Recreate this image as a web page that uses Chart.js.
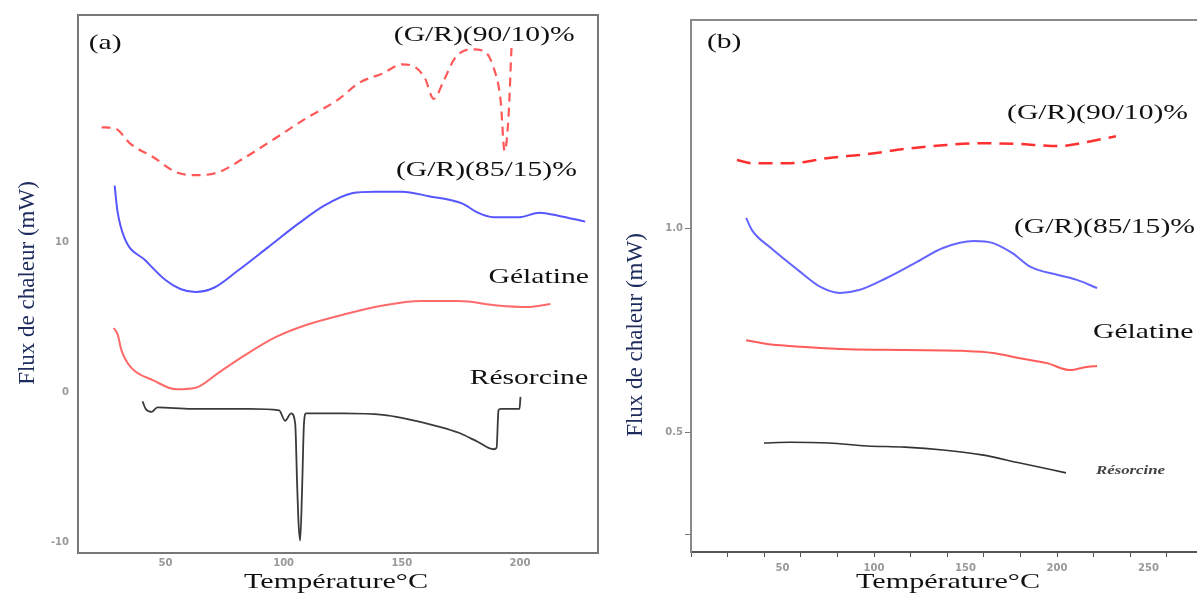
<!DOCTYPE html>
<html>
<head>
<meta charset="utf-8">
<script src="https://cdn.jsdelivr.net/npm/chart.js@4/dist/chart.umd.min.js"></script>
<style>
  body { margin: 0; background: #fff; }
  #wrap { position: relative; width: 1197px; height: 595px; overflow: hidden; }
  canvas { position: absolute; top: 0; }
  #chartA { left: 0; }
  #chartB { left: 600px; }
</style>
</head>
<body>
<div id="wrap">
  <canvas id="chartA" width="600" height="595"></canvas>
  <canvas id="chartB" width="597" height="595"></canvas>
</div>
<script>
// ---- panel (a) : temperature (°C) / heat flux (mW)
const tempA_90 = [23, 28.9, 35.2, 44.9, 54.6, 62.7, 72.4, 83.8, 96.8, 109.5, 122.6, 132.3, 142.0, 150.0, 154.6, 159.7, 163.5, 167.7, 172.4, 179.1, 184.6, 188.8, 191.8, 193.5, 195.1, 196.4];
const fluxA_90 = [17.7, 17.6, 16.6, 15.7, 14.7, 14.5, 14.7, 15.7, 17.0, 18.3, 19.5, 20.7, 21.3, 21.9, 21.8, 21.0, 19.6, 20.8, 22.3, 22.9, 22.8, 21.7, 19.5, 16.1, 18.3, 23.0];
const tempA_85 = [28.5, 29.7, 32.7, 41.6, 50, 56.3, 62.7, 70.7, 80.4, 93.5, 106.5, 117.5, 128.9, 138.6, 150.0, 161.4, 175.7, 182.1, 188.8, 199.8, 208.2, 216.2, 227.6];
const fluxA_85 = [13.8, 12.1, 10.3, 8.8, 7.5, 6.9, 6.7, 7.0, 8.1, 9.7, 11.3, 12.5, 13.3, 13.4, 13.4, 13.1, 12.6, 12.0, 11.7, 11.7, 12.0, 11.8, 11.4];
const tempA_gel = [28.1, 29.7, 31.4, 35.2, 44.9, 54.6, 62.7, 72.4, 83.8, 96.8, 109.5, 125.5, 142.0, 158.0, 174.1, 190.5, 203.2, 212.9];
const fluxA_gel = [4.3, 3.9, 2.8, 1.7, 0.8, 0.2, 0.3, 1.3, 2.5, 3.7, 4.5, 5.2, 5.8, 6.1, 6.1, 5.8, 5.7, 5.9];
const tempA_res = [40.3, 41.6, 44.1, 46.6, 61.0, 85.4, 98.1, 100.6, 103.2, 104.9, 105.7, 106.3, 107.0, 107.8, 108.6, 109.5, 125.5, 142.0, 150.0, 166.0, 174.1, 182.1, 188.8, 190.1, 190.9, 191.8, 199.8, 200.2];
const fluxA_res = [-0.6, -1.1, -1.3, -1.0, -1.1, -1.1, -1.2, -1.9, -1.4, -2.1, -6.1, -8.7, -9.9, -6.5, -2.1, -1.4, -1.4, -1.5, -1.7, -2.3, -2.7, -3.3, -3.8, -3.7, -1.2, -1.1, -1.1, -0.3];
const xTicksA = [50, 100, 150, 200];
const yTicksA = [-10, 0, 10];

// ---- panel (b)
const tempB_90 = [25.1, 33.3, 54.1, 75.4, 96.2, 116.9, 137.7, 159.0, 179.8, 190.2, 200.5, 213.1, 221.9, 232.2];
const fluxB_90 = [1.167, 1.159, 1.159, 1.172, 1.181, 1.194, 1.203, 1.208, 1.206, 1.203, 1.201, 1.208, 1.216, 1.225];
const tempB_85 = [30.1, 33.3, 43.7, 58.5, 71.0, 81.4, 91.8, 106.6, 123.5, 137.7, 154.6, 165.0, 175.4, 185.8, 200.5, 210.9, 221.9];
const fluxB_85 = [1.025, 0.995, 0.951, 0.897, 0.855, 0.841, 0.848, 0.877, 0.917, 0.951, 0.968, 0.963, 0.939, 0.904, 0.885, 0.873, 0.853];
const tempB_gel = [30.1, 41.5, 64.5, 85.8, 116.9, 148.6, 165.0, 179.8, 194.5, 207.1, 215.3, 221.9];
const fluxB_gel = [0.725, 0.716, 0.708, 0.703, 0.701, 0.699, 0.694, 0.681, 0.669, 0.652, 0.659, 0.662];
const tempB_res = [39.9, 54.1, 75.4, 96.2, 116.9, 137.7, 159.0, 179.8, 204.9];
const fluxB_res = [0.473, 0.475, 0.473, 0.466, 0.463, 0.456, 0.444, 0.424, 0.400];
const xLabelsB = [50, 100, 150, 200, 250];
const yTicksB = [0.25, 0.5, 1.0];

const seriesNames = ['(G/R)(90/10)%', '(G/R)(85/15)%', 'Gélatine', 'Résorcine'];

const pts = (xs, ys) => xs.map((x, i) => ({ x: x, y: ys[i] }));
const serif = '"Liberation Serif", "Times New Roman", serif';

// draws the in-plot labels (data coords) and the axis titles (pixels), stretched like the scan
const panelText = {
    id: 'panelText',
    afterDraw(chart, args, opts) {
        const ctx = chart.ctx;
        const xs = chart.scales.x, ys = chart.scales.y;
        ctx.textBaseline = 'middle';
        (opts.labels || []).forEach(l => {
            ctx.save();
            ctx.font = l.font || ('21px ' + serif);
            ctx.fillStyle = l.color || '#111';
            ctx.translate(xs.getPixelForValue(l.x), ys.getPixelForValue(l.y));
            ctx.scale(l.stretch || 1.41, 1);
            ctx.textAlign = 'left';
            ctx.fillText(l.text, 0, 0);
            ctx.restore();
        });
        (opts.titles || []).forEach(t => {
            ctx.save();
            ctx.font = t.font;
            ctx.fillStyle = t.color || '#111';
            ctx.translate(t.px, t.py);
            ctx.rotate(t.rot || 0);
            ctx.scale(t.stretch || 1, 1);
            ctx.textAlign = 'center';
            ctx.fillText(t.text, 0, 0);
            ctx.restore();
        });
    }
};

// top / right frame lines
const frame = {
    id: 'frame',
    beforeDatasetsDraw(chart, args, opts) {
        const { ctx, chartArea: a } = chart;
        ctx.save();
        ctx.strokeStyle = opts.color || '#777';
        ctx.lineWidth = 2;
        ctx.beginPath();
        ctx.moveTo(a.left, a.top);
        ctx.lineTo(a.right, a.top);
        if (opts.right) ctx.lineTo(a.right, a.bottom);
        ctx.stroke();
        ctx.restore();
    }
};

const tickFont = { family: '"DejaVu Sans", sans-serif', size: 10, weight: 'bold' };

// ---------------- chart (a)
new Chart(document.getElementById('chartA'), {
    type: 'line',
    data: {
        datasets: [
            { label: seriesNames[0], data: pts(tempA_90, fluxA_90), borderColor: 'rgba(255,70,70,0.9)', borderWidth: 2.2, borderDash: [9, 6] },
            { label: seriesNames[1], data: pts(tempA_85, fluxA_85), borderColor: '#5656ff', borderWidth: 2 },
            { label: seriesNames[2], data: pts(tempA_gel, fluxA_gel), borderColor: '#ff6a6a', borderWidth: 2 },
            { label: seriesNames[3], data: pts(tempA_res, fluxA_res), borderColor: '#3a3a3a', borderWidth: 1.8 }
        ]
    },
    options: {
        responsive: false,
        animation: false,
        layout: { padding: { top: 14, right: 2, left: 0, bottom: 0 } },
        elements: { point: { radius: 0 }, line: { cubicInterpolationMode: 'monotone' } },
        scales: {
            x: {
                type: 'linear', min: 13, max: 233,
                afterFit: s => { s.height = 42; },
                afterBuildTicks: s => { s.ticks = xTicksA.map(v => ({ value: v })); },
                grid: { display: false, drawTicks: false },
                border: { display: true, color: '#777', width: 2 },
                ticks: { font: tickFont, color: '#999', padding: 4, maxRotation: 0 }
            },
            y: {
                min: -10.73, max: 25.2,
                afterFit: s => { s.width = 78; },
                afterBuildTicks: s => { s.ticks = yTicksA.map(v => ({ value: v })); },
                grid: { display: false, drawTicks: false },
                border: { display: true, color: '#777', width: 2 },
                ticks: { font: tickFont, color: '#999', padding: 9 }
            }
        },
        plugins: {
            legend: { display: false },
            tooltip: { enabled: false },
            frame: { right: true },
            panelText: {
                labels: [
                    { text: '(a)', x: 17.5, y: 23.3 },
                    { text: seriesNames[0], x: 146.6, y: 23.8 },
                    { text: seriesNames[1], x: 147.5, y: 14.8 },
                    { text: seriesNames[2], x: 186.7, y: 7.67 },
                    { text: seriesNames[3], x: 178.7, y: 0.93 }
                ],
                titles: [
                    { text: 'Flux de chaleur (mW)', px: 28, py: 283, rot: -Math.PI / 2, font: '23px ' + serif, color: '#1d2c5c' },
                    { text: 'Température°C', px: 336, py: 582, font: '22px ' + serif, stretch: 1.37 }
                ]
            }
        }
    },
    plugins: [frame, panelText]
});

// ---------------- chart (b)
new Chart(document.getElementById('chartB'), {
    type: 'line',
    data: {
        datasets: [
            { label: seriesNames[0], data: pts(tempB_90, fluxB_90), borderColor: '#ff3030', borderWidth: 2.5, borderDash: [14, 8] },
            { label: seriesNames[1], data: pts(tempB_85, fluxB_85), borderColor: '#6464ff', borderWidth: 2 },
            { label: seriesNames[2], data: pts(tempB_gel, fluxB_gel), borderColor: '#ff5c5c', borderWidth: 2 },
            { label: seriesNames[3], data: pts(tempB_res, fluxB_res), borderColor: '#333', borderWidth: 1.6 }
        ]
    },
    options: {
        responsive: false,
        animation: false,
        layout: { padding: { top: 20, right: 0, left: 0, bottom: 0 } },
        elements: { point: { radius: 0 }, line: { cubicInterpolationMode: 'monotone' } },
        scales: {
            x: {
                type: 'linear', min: 0, max: 276.5,
                afterFit: s => { s.height = 43; },
                afterBuildTicks: s => {
                    const t = [];
                    for (let v = 0; v <= 270; v += 10) t.push({ value: v });
                    s.ticks = t;
                },
                grid: {
                    drawOnChartArea: false, drawTicks: true, tickLength: 5,
                    tickColor: c => (c.tick && c.tick.value % 20 === 0) ? '#555' : 'rgba(0,0,0,0)'
                },
                border: { display: true, color: '#555', width: 2 },
                ticks: {
                    autoSkip: false, maxRotation: 0, font: tickFont, color: '#999', padding: 5,
                    callback: v => xLabelsB.includes(v) ? String(v) : ''
                }
            },
            y: {
                min: 0.206, max: 1.51,
                afterFit: s => { s.width = 91; },
                afterBuildTicks: s => { s.ticks = yTicksB.map(v => ({ value: v })); },
                grid: { drawOnChartArea: false, drawTicks: true, tickLength: 6, tickColor: '#777' },
                border: { display: true, color: '#888', width: 2 },
                ticks: {
                    font: tickFont, color: '#999', padding: 2,
                    callback: v => (v === 0.5 || v === 1) ? v.toFixed(1) : ''
                }
            }
        },
        plugins: {
            legend: { display: false },
            tooltip: { enabled: false },
            frame: { right: false, color: '#888' },
            panelText: {
                labels: [
                    { text: '(b)', x: 8.7, y: 1.456 },
                    { text: seriesNames[0], x: 172.7, y: 1.282 },
                    { text: seriesNames[1], x: 176.5, y: 1.002 },
                    { text: seriesNames[2], x: 219.7, y: 0.743 },
                    { text: seriesNames[3], x: 221.3, y: 0.404, font: 'italic bold 12px ' + serif, color: '#444', stretch: 1.4 }
                ],
                titles: [
                    { text: 'Flux de chaleur (mW)', px: 36, py: 335, rot: -Math.PI / 2, font: '23px ' + serif, color: '#1d2c5c' },
                    { text: 'Température°C', px: 348, py: 582, font: '22px ' + serif, stretch: 1.37 }
                ]
            }
        }
    },
    plugins: [frame, panelText]
});
</script>
</body>
</html>
